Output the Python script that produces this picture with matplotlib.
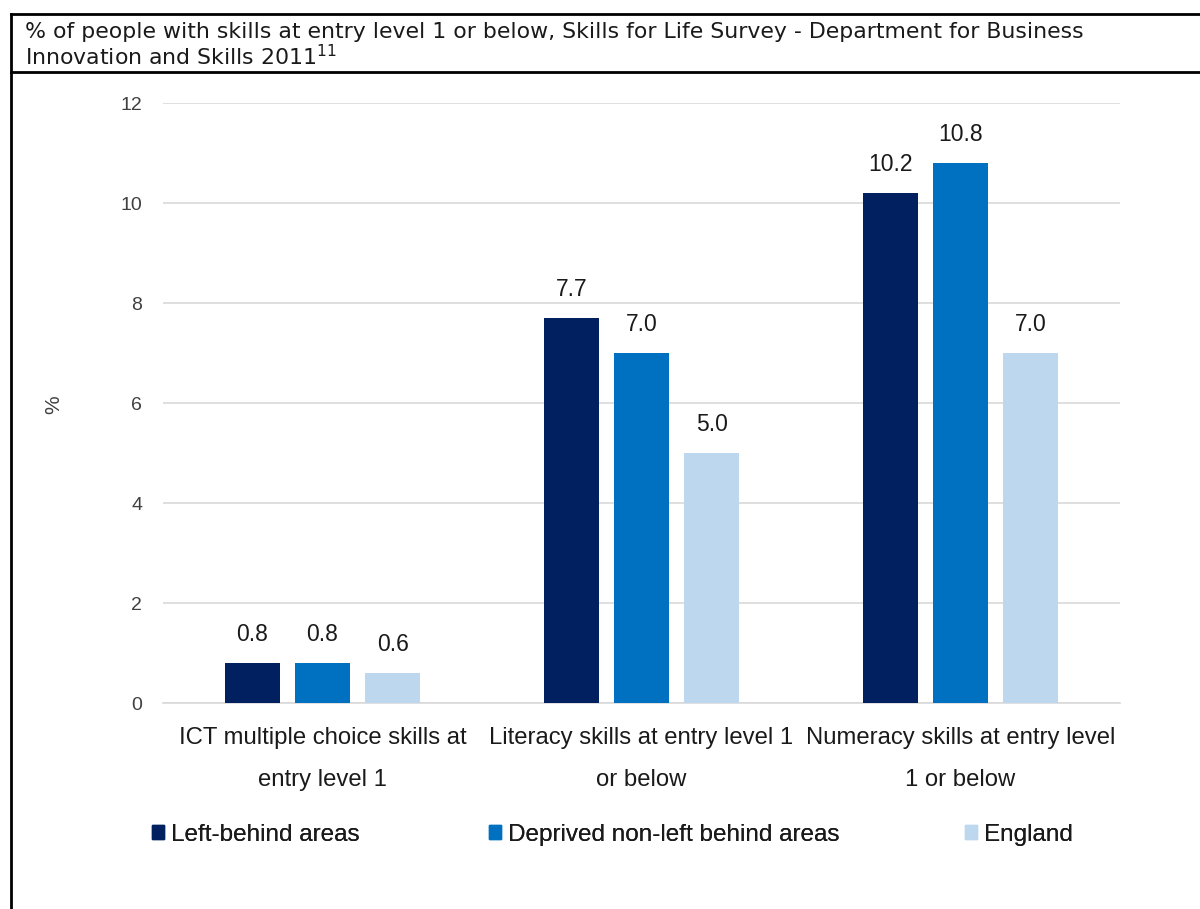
import matplotlib
matplotlib.use("Agg")
import matplotlib.pyplot as plt
import numpy as np
from matplotlib.lines import Line2D
from matplotlib.patches import Patch

# Data
categories = ["ICT multiple choice skills at\nentry level 1",
              "Literacy skills at entry level 1\nor below",
              "Numeracy skills at entry level\n1 or below"]
series_names = ["Left-behind areas", "Deprived non-left behind areas", "England"]
left_behind = [0.8, 7.7, 10.2]
deprived = [0.8, 7.0, 10.8]
england = [0.6, 5.0, 7.0]
y_ticks = [0, 2, 4, 6, 8, 10, 12]

colors = ["#002060", "#0070C0", "#BDD7EE"]
title = ("% of people with skills at entry level 1 or below, Skills for Life Survey - Department for Business\n"
         "Innovation and Skills 2011$^{11}$")

W, H = 1200, 909
fig = plt.figure(figsize=(W / 100, H / 100), dpi=100)

ax = fig.add_axes([163 / W, 1 - 703 / H, (1120 - 163) / W, 600 / H])

x = np.arange(len(categories))
width = 0.173
step = 0.22
for i, (vals, name) in enumerate(zip([left_behind, deprived, england], series_names)):
    bars = ax.bar(x + (i - 1) * step, vals, width, color=colors[i], label=name, zorder=3)
    for b, v in zip(bars, vals):
        ax.annotate(f"{v:.1f}", (b.get_x() + b.get_width() / 2, v),
                    xytext=(0, 12), textcoords="offset points",
                    ha="center", va="bottom", fontsize=16.5, color="#1a1a1a",
                    family="Liberation Sans")

ax.set_xlim(-0.5, 2.5)
ax.set_ylim(0, 12)
ax.set_yticks(y_ticks)
ax.set_yticklabels([str(t) for t in y_ticks], fontsize=14, color="#404040",
                   family="Liberation Sans")
ax.set_xticks(x)
ax.set_xticklabels(categories, fontsize=17.2, color="#1a1a1a", family="Liberation Sans",
                   linespacing=2.2)
ax.tick_params(axis="both", length=0)
ax.tick_params(axis="x", pad=17)
ax.tick_params(axis="y", pad=15)
ax.grid(axis="y", color="#D9D9D9", linewidth=1.2, zorder=0)
for s in ["top", "right", "left"]:
    ax.spines[s].set_visible(False)
ax.spines["bottom"].set_color("#D9D9D9")
ax.spines["bottom"].set_linewidth(1.2)

fig.text(54 / W, 1 - 405 / H, "%", rotation=90, fontsize=15, color="#404040",
         ha="center", va="center", family="Liberation Sans")

# Legend: one entry per series, spread along the bottom
legend_x = [152, 489, 965]
for i, name in enumerate(series_names):
    leg = fig.legend(handles=[Patch(color=colors[i])], labels=[name],
                     loc="center left", bbox_to_anchor=(legend_x[i] / W, 1 - 835 / H),
                     frameon=False, handlelength=0.5, handleheight=0.5,
                     handletextpad=0.3, borderpad=0, borderaxespad=0,
                     prop={"family": "Liberation Sans", "size": 17.5})
    for t in leg.get_texts():
        t.set_color("#1a1a1a")
    fig.add_artist(leg)

# Title box
fig.text(25 / W, 1 - 22 / H, title, fontsize=15.8, color="#1a1a1a",
         ha="left", va="top", family="DejaVu Sans", linespacing=1.08)

lx = 11 / W
fig.add_artist(Line2D([lx, lx], [0, 1 - 14 / H], color="black", linewidth=2))
fig.add_artist(Line2D([lx, 1], [1 - 14 / H, 1 - 14 / H], color="black", linewidth=2))
fig.add_artist(Line2D([lx, 1], [1 - 72 / H, 1 - 72 / H], color="black", linewidth=2))

fig.savefig("out.png", dpi=100, facecolor="white")
